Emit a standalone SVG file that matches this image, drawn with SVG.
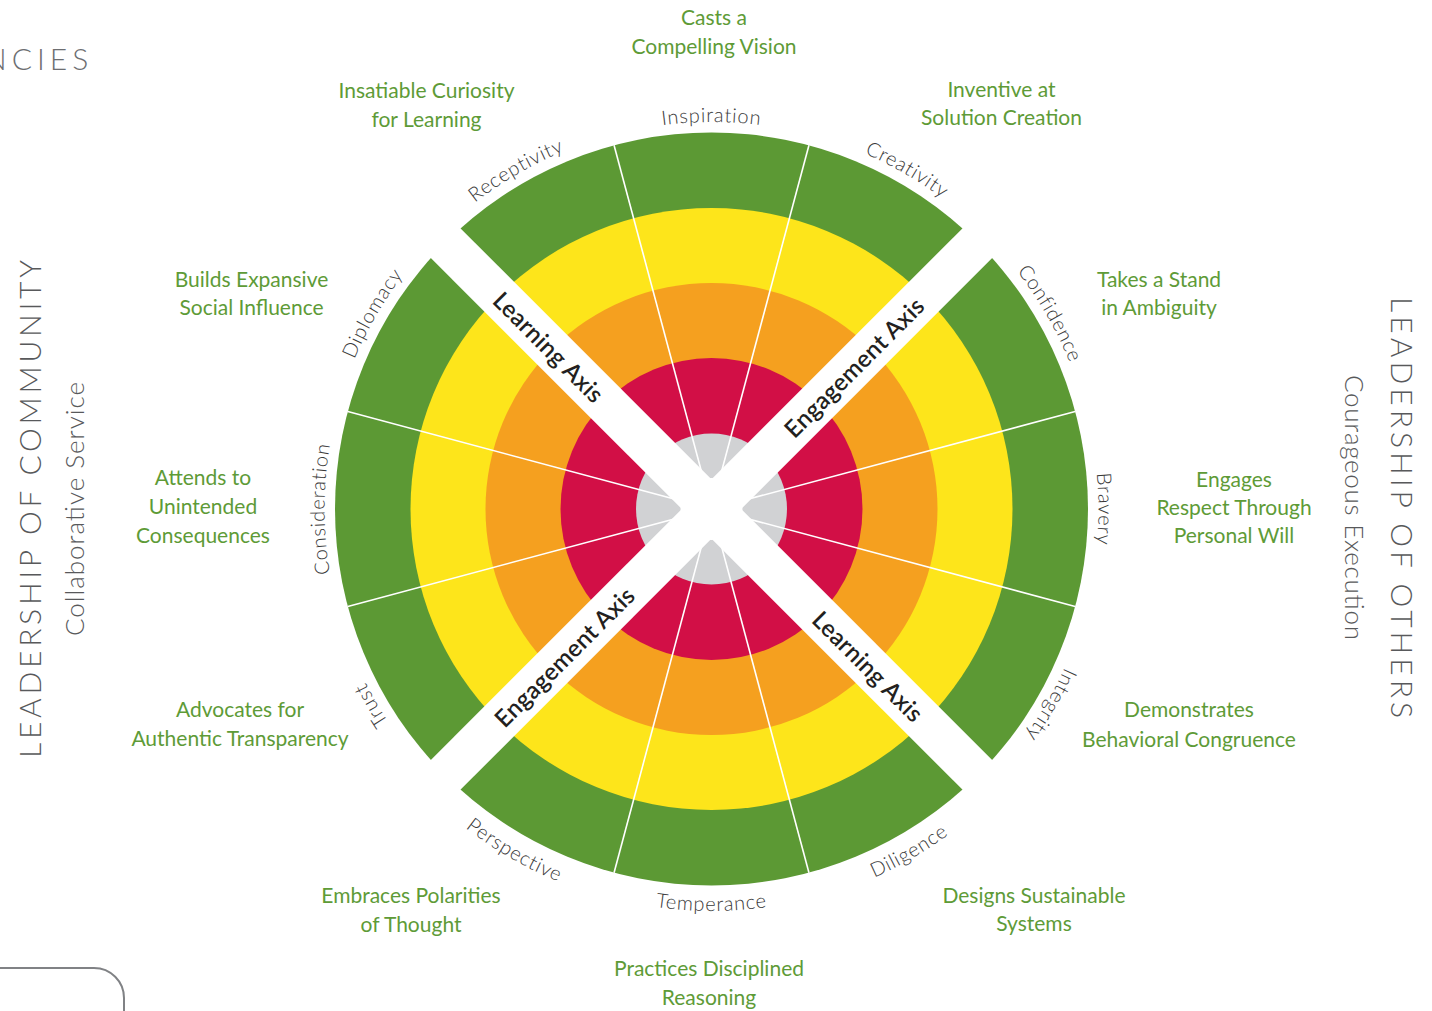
<svg xmlns="http://www.w3.org/2000/svg" width="1432" height="1011" viewBox="0 0 1432 1011">
<style>
.g{font-family:Lato,"Liberation Sans",sans-serif;font-size:21px;fill:#5e9b37;text-anchor:middle}
.s{font-family:Lato,"Liberation Sans",sans-serif;font-size:20px;font-weight:300;fill:#3a3a3a;letter-spacing:0.8px}
.ax{font-family:Lato,"Liberation Sans",sans-serif;font-size:24px;font-weight:600;fill:#231f20;text-anchor:middle;dominant-baseline:central;letter-spacing:0.3px}
.t{font-family:Lato,"Liberation Sans",sans-serif;font-weight:300;fill:#58595b;text-anchor:middle}
.sep{stroke:#ffffff;stroke-width:1.6}
</style>
<defs>
<path id="a1" d="M330.4 441.8 A387 387 0 0 1 843.9 145.3"/>
<path id="a2" d="M415.1 260.2 A387 387 0 0 1 1007.9 260.2"/>
<path id="a3" d="M579.1 145.3 A387 387 0 0 1 1092.6 441.8"/>
<path id="a4" d="M778.7 127.9 A387 387 0 0 1 1075.2 641.4"/>
<path id="a5" d="M960.3 212.6 A387 387 0 0 1 960.3 805.4"/>
<path id="a6" d="M1075.2 376.6 A387 387 0 0 1 778.7 890.1"/>
<path id="a7" d="M644.3 890.1 A387 387 0 0 1 347.8 376.6"/>
<path id="a8" d="M462.7 805.4 A387 387 0 0 1 462.7 212.6"/>
<path id="a9" d="M347.8 641.4 A387 387 0 0 1 644.3 127.9"/>
<path id="b1" d="M573.9 887.8 A402 402 0 0 0 1107.4 578.8"/>
<path id="b2" d="M403.6 767.4 A402 402 0 0 0 1019.4 767.4"/>
<path id="b3" d="M315.6 578.8 A402 402 0 0 0 849.1 887.8"/>
</defs>
<rect width="1432" height="1011" fill="#ffffff"/>

<g id="wheel">
<circle cx="711.5" cy="509" r="376.5" fill="#5c9934"/>
<circle cx="711.5" cy="509" r="301" fill="#fde51b"/>
<circle cx="711.5" cy="509" r="226" fill="#f5a01f"/>
<circle cx="711.5" cy="509" r="151" fill="#d20f46"/>
<circle cx="711.5" cy="509" r="75.5" fill="#d1d2d4"/>
</g>

<g id="connectors">
<line class="sep" x1="808.95" y1="145.33" x2="614.05" y2="872.67"/>
<line class="sep" x1="614.05" y1="145.33" x2="808.95" y2="872.67"/>
<line class="sep" x1="1075.17" y1="411.55" x2="347.83" y2="606.45"/>
<line class="sep" x1="1075.17" y1="606.45" x2="347.83" y2="411.55"/>
</g>

<g id="axes">
<rect x="326.5" y="488" width="770" height="42" fill="#ffffff" transform="rotate(45 711.5 509)"/>
<rect x="326.5" y="488" width="770" height="42" fill="#ffffff" transform="rotate(-45 711.5 509)"/>
<circle cx="711.5" cy="509" r="31" fill="#ffffff"/>
<text class="ax" transform="translate(549.2 346.7) rotate(45)">Learning Axis</text>
<text class="ax" transform="translate(853.6 366.9) rotate(-45)">Engagement Axis</text>
<text class="ax" transform="translate(564 656.5) rotate(-45)">Engagement Axis</text>
<text class="ax" transform="translate(868.5 666) rotate(45)">Learning Axis</text>
</g>

<g id="sector-labels">
<text class="s" text-anchor="middle"><textPath href="#a1" startOffset="50%">Receptivity</textPath></text>
<text class="s" text-anchor="middle"><textPath href="#a2" startOffset="50%">Inspiration</textPath></text>
<text class="s" text-anchor="middle"><textPath href="#a3" startOffset="50%">Creativity</textPath></text>
<text class="s" text-anchor="middle"><textPath href="#a4" startOffset="50%">Confidence</textPath></text>
<text class="s" text-anchor="middle"><textPath href="#a5" startOffset="50%">Bravery</textPath></text>
<text class="s" text-anchor="middle"><textPath href="#a6" startOffset="50%">Integrity</textPath></text>
<text class="s" text-anchor="middle"><textPath href="#a7" startOffset="50%">Trust</textPath></text>
<text class="s" text-anchor="middle"><textPath href="#a8" startOffset="50%">Consideration</textPath></text>
<text class="s" text-anchor="middle"><textPath href="#a9" startOffset="50%">Diplomacy</textPath></text>
<text class="s" text-anchor="middle"><textPath href="#b1" startOffset="50%">Diligence</textPath></text>
<text class="s" text-anchor="middle"><textPath href="#b2" startOffset="50%">Temperance</textPath></text>
<text class="s" text-anchor="middle"><textPath href="#b3" startOffset="50%">Perspective</textPath></text>
</g>

<g id="competencies">
<text class="g" x="714" y="25">Casts a</text>
<text class="g" x="714" y="54">Compelling Vision</text>
<text class="g" x="426.5" y="98">Insatiable Curiosity</text>
<text class="g" x="426.5" y="127">for Learning</text>
<text class="g" x="1001.5" y="97">Inventive at</text>
<text class="g" x="1001.5" y="125">Solution Creation</text>
<text class="g" x="1159" y="287">Takes a Stand</text>
<text class="g" x="1159" y="315">in Ambiguity</text>
<text class="g" x="1234" y="487">Engages</text>
<text class="g" x="1234" y="515">Respect Through</text>
<text class="g" x="1234" y="543">Personal Will</text>
<text class="g" x="1189" y="717">Demonstrates</text>
<text class="g" x="1189" y="747">Behavioral Congruence</text>
<text class="g" x="1034" y="903">Designs Sustainable</text>
<text class="g" x="1034" y="931">Systems</text>
<text class="g" x="709" y="976">Practices Disciplined</text>
<text class="g" x="709" y="1005">Reasoning</text>
<text class="g" x="411" y="903">Embraces Polarities</text>
<text class="g" x="411" y="932">of Thought</text>
<text class="g" x="240" y="717">Advocates for</text>
<text class="g" x="240" y="746">Authentic Transparency</text>
<text class="g" x="203" y="485">Attends to</text>
<text class="g" x="203" y="514">Unintended</text>
<text class="g" x="203" y="543">Consequences</text>
<text class="g" x="251.5" y="287">Builds Expansive</text>
<text class="g" x="251.5" y="315">Social Influence</text>
</g>

<g id="titles">
<text class="t" font-size="30" transform="translate(41 509) rotate(-90)" textLength="498" lengthAdjust="spacing">LEADERSHIP OF COMMUNITY</text>
<text class="t" font-size="26" fill="#6d6e71" transform="translate(84 509) rotate(-90)" textLength="254" lengthAdjust="spacing">Collaborative Service</text>
<text class="t" font-size="30" transform="translate(1391 507.5) rotate(90)" textLength="421" lengthAdjust="spacing">LEADERSHIP OF OTHERS</text>
<text class="t" font-size="26" transform="translate(1345 507.5) rotate(90)" textLength="265" lengthAdjust="spacing">Courageous Execution</text>
<text font-family="Lato,'Liberation Sans',sans-serif" font-weight="300" font-size="30" fill="#6d6e71" x="-16" y="70" letter-spacing="5">NCIES</text>
<path d="M-2 968 H94 A30 30 0 0 1 124 998 V1013" fill="none" stroke="#808285" stroke-width="2"/>
</g>
</svg>
